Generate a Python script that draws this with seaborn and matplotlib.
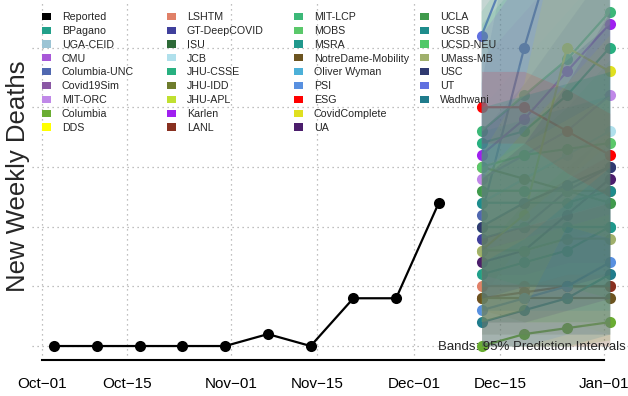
import matplotlib
matplotlib.use("Agg")
import matplotlib.pyplot as plt
import matplotlib.dates as mdates
from matplotlib.patches import Patch
import pandas as pd
import seaborn as sns

# reported weekly deaths (Saturdays)
report_dates = pd.date_range("2020-10-03", periods=10, freq="7D")
reported = [0, 0, 0, 0, 0, 1, 0, 4, 4, 12]

# forecast horizon
fc_dates = pd.date_range("2020-12-12", periods=4, freq="7D")

legend_names = ["Reported", "BPagano", "UGA-CEID", "CMU", "Columbia-UNC", "Covid19Sim",
                "MIT-ORC", "Columbia", "DDS",
                "LSHTM", "GT-DeepCOVID", "ISU", "JCB", "JHU-CSSE", "JHU-IDD", "JHU-APL",
                "Karlen", "LANL",
                "MIT-LCP", "MOBS", "MSRA", "NotreDame-Mobility", "Oliver Wyman", "PSI",
                "ESG", "CovidComplete", "UA",
                "UCLA", "UCSB", "UCSD-NEU", "UMass-MB", "USC", "UT", "Wadhwani"]
legend_colors = ["#000000", "#21a08a", "#9cc4d4", "#a858d8", "#5068b0", "#8a58a4",
                 "#c088e8", "#6aad32", "#ffff00",
                 "#e08068", "#40409c", "#2e6a38", "#b0e0ec", "#28b080", "#6e7c2c", "#c0e030",
                 "#a020f0", "#883020",
                 "#3cb878", "#5ac86a", "#20988c", "#6c5420", "#4cb0d8", "#5890e0",
                 "#ff0000", "#e0e020", "#4c1e6c",
                 "#409a4c", "#1e8c8c", "#50c868", "#a0b06c", "#303a70", "#6070e0", "#207c8c"]

# forecasts: median, lower and upper 95% bound for the four horizons
fc_models = ["BPagano", "Columbia-UNC", "MIT-ORC", "Columbia", "LSHTM", "GT-DeepCOVID",
             "JCB", "JHU-CSSE", "JHU-IDD", "Karlen", "LANL", "MIT-LCP", "MOBS", "MSRA",
             "NotreDame-Mobility", "PSI", "ESG", "CovidComplete", "UA", "UCLA", "UCSB",
             "UMass-MB", "USC", "UT", "Wadhwani"]
fc_median = [[6, 7, 8, 10], [11, 25, 37, 48], [14, 16, 18, 21], [0, 1, 1.5, 2],
             [5, 5, 5, 5], [9, 10, 13, 15], [12, 14, 16, 18], [17, 18, 21, 25],
             [15, 14, 13, 13], [16, 19, 23, 27], [4, 4.5, 5, 5], [18, 21, 24, 28],
             [15, 16, 16.5, 17], [10, 10, 10, 10], [4, 4, 4, 4], [3, 4, 5, 7],
             [20, 20, 18, 16], [8, 11, 25, 23], [7, 8, 11, 14], [13, 13, 13, 12],
             [12, 12, 12, 13], [8, 8, 9, 9], [10, 12, 13.5, 15], [26, 35, 44, 53],
             [2, 3, 4, 6]]
fc_lower = [[1, 1, 1, 1], [4, 9, 14, 18], [6, 6, 7, 7], [0, 0, 0, 0.5],
            [1, 1, 1, 1], [3, 3, 4, 4], [5, 5, 6, 6], [8, 8, 9, 10],
            [3, 2, 2, 2], [8, 9, 10, 11], [0, 0, 0, 0], [9, 10, 11, 12],
            [2, 2, 2, 2], [3, 3, 3, 3], [0, 0, 0, 0], [0, 0, 1, 1],
            [17, 17, 14.5, 12.5], [2, 3, 10, 9], [2, 2, 3, 4], [6, 5, 5, 4],
            [5, 5, 5, 5], [2, 2, 2, 1], [4, 5, 5, 6], [14, 18, 22, 26],
            [0, 0, 0, 1]]
fc_upper = [[14, 17, 20, 24], [22, 40, 58, 76], [24, 28, 32, 36], [8, 12, 15, 18],
            [12, 14, 16, 18], [18, 22, 27, 32], [20, 24, 28, 32], [27, 31, 35, 40],
            [30, 32, 34, 36], [26, 31, 37, 44], [10, 12, 14, 16], [28, 33, 38, 44],
            [30, 32, 34, 36], [18, 19, 20, 21], [9, 10, 11, 12], [8, 11, 14, 17],
            [23, 23, 21.5, 19.5], [16, 22, 38, 36], [14, 17, 22, 28], [20, 21, 22, 23],
            [20, 21, 22, 23], [15, 17, 19, 21], [18, 21, 24, 27], [40, 54, 68, 82],
            [7, 9, 12, 15]]

x_ticks = pd.date_range("2020-10-01", "2021-01-01", freq="SMS")
y_grid = [0, 5, 10, 15, 20, 25]

sns.set_style("white")
plt.rcParams["font.family"] = ["Liberation Sans", "DejaVu Sans"]

W, H = 628, 396
fig = plt.figure(figsize=(W / 100, H / 100), dpi=100)
ax = fig.add_axes([32 / W, 36 / H, 600 / W, 360 / H])

palette = dict(zip(legend_names, legend_colors))

sns.lineplot(x=report_dates, y=reported, color="black", marker="o", markersize=8,
             markeredgewidth=0, linewidth=1.6, ax=ax)

rows = []
for name, med in zip(fc_models, fc_median):
    for d, v in zip(fc_dates, med):
        rows.append({"model": name, "date": d, "value": v})
fc = pd.DataFrame(rows)
sns.lineplot(data=fc, x="date", y="value", hue="model", palette=palette, marker="o",
             markersize=8, markeredgewidth=0, linewidth=1.6, errorbar=None,
             legend=False, ax=ax)

# bands go over the medians, as in the original
for name, lo, hi in zip(fc_models, fc_lower, fc_upper):
    ax.fill_between(fc_dates, lo, hi, color=palette[name], alpha=0.14, lw=0, zorder=3)

tick_num = mdates.date2num(x_ticks)
x0 = tick_num[0]
ax.set_xlim(x0 - 1.64, x0 + 96.64)
ax.set_ylim(-1.17, 28.98)
ax.set_xticks(tick_num)
ax.xaxis.set_major_formatter(mdates.DateFormatter("%b\u2212%d"))
ax.set_yticks(y_grid)
ax.set_yticklabels([])
ax.tick_params(axis="y", length=0)
ax.tick_params(axis="x", length=4, width=1.5, pad=8, labelsize=11, colors="black")
ax.set_xlabel("")
ax.set_ylabel("")
for s in ["top", "right", "left"]:
    ax.spines[s].set_visible(False)
ax.spines["bottom"].set_bounds(tick_num[0], tick_num[-1])
ax.spines["bottom"].set_linewidth(1.5)
ax.spines["bottom"].set_color("black")
ax.grid(True, linestyle=(0, (1, 3)), color="#aaaaaa", linewidth=0.9)
ax.set_axisbelow(True)

# legend in four columns; the last one stays as ax.legend_, so don't add it twice
col_x = [42, 167, 294, 420]
for k in range(4):
    names = legend_names[9 * k:9 * k + 9]
    handles = [Patch(facecolor=palette[n], edgecolor="none") for n in names]
    leg = ax.legend(handles, names, loc="upper left",
                    bbox_to_anchor=(col_x[k] / W, 1 - 12 / H),
                    bbox_transform=fig.transFigure, frameon=False, fontsize=7.7,
                    handlelength=0.85, handleheight=0.65, handletextpad=1.0,
                    labelspacing=0.36, borderpad=0, borderaxespad=0)
    if k < 3:
        ax.add_artist(leg)

fig.text(18 / W, 1 - 176 / H, "New Weekly Deaths", rotation=90, ha="center",
         va="center", fontsize=18.5)
fig.text(626 / W, 1 - 347 / H, "Bands: 95% Prediction Intervals", ha="right",
         va="center", fontsize=9.5, zorder=6)

fig.savefig("out.png", dpi=100)
